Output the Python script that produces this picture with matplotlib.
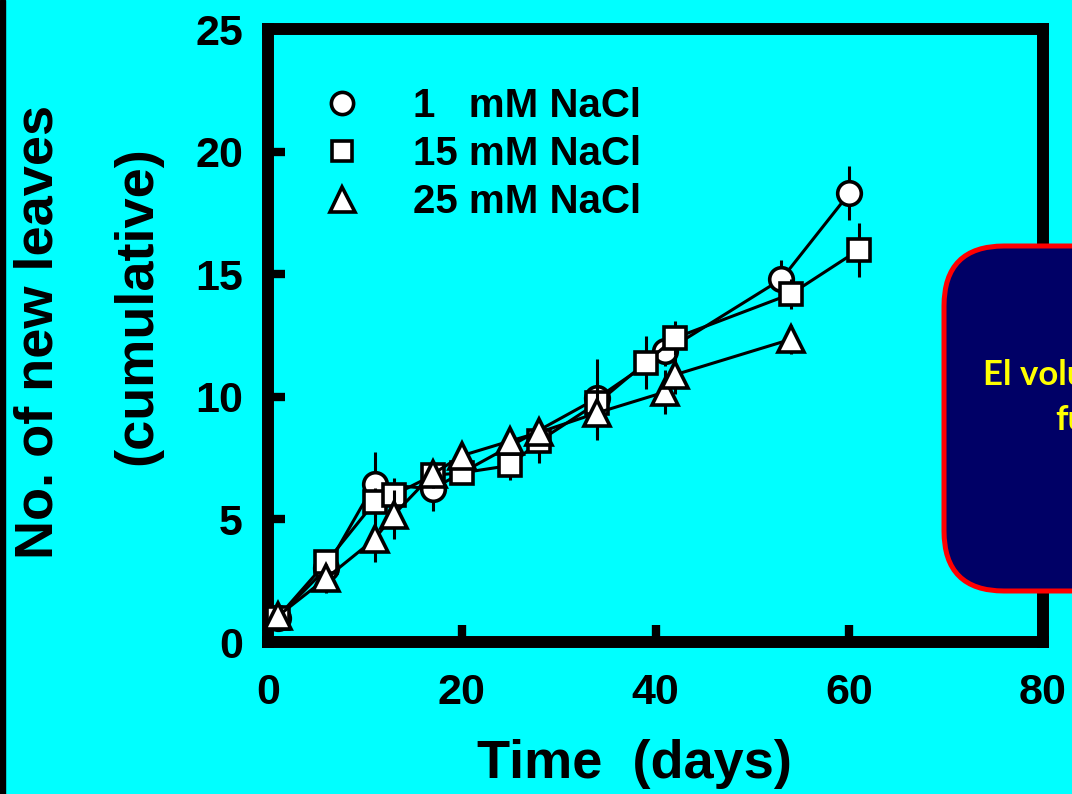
import numpy as np
import matplotlib.pyplot as plt
from matplotlib.lines import Line2D
from matplotlib.patches import FancyBboxPatch, Rectangle

# 1 mM NaCl
days_1 = [1, 6, 11, 17, 34, 41, 53, 60]
leaves_1 = [1.0, 3.0, 6.45, 6.25, 9.95, 11.85, 14.8, 18.3]
err_1 = [0.2, 0.3, 1.3, 0.9, 1.6, 0.6, 0.8, 1.1]

# 15 mM NaCl
days_15 = [1, 6, 11, 13, 17, 20, 25, 28, 34, 39, 42, 54, 61]
leaves_15 = [1.0, 3.25, 5.7, 6.0, 6.8, 6.9, 7.2, 8.2, 9.75, 11.4, 12.4, 14.2, 16.0]
err_15 = [0.1, 0.3, 0.6, 0.7, 0.5, 0.4, 0.6, 0.9, 0.9, 1.1, 0.7, 0.6, 1.1]

# 25 mM NaCl
days_25 = [1, 6, 11, 13, 17, 20, 25, 28, 34, 41, 42, 54]
leaves_25 = [1.05, 2.6, 4.2, 5.2, 6.85, 7.6, 8.2, 8.55, 9.35, 10.2, 10.9, 12.35]
err_25 = [0.2, 0.6, 0.95, 1.0, 0.4, 0.3, 0.3, 0.3, 1.1, 0.9, 0.8, 0.6]

labels = ['1   mM NaCl', '15 mM NaCl', '25 mM NaCl']
markers = ['o', 's', '^']
sizes = [17, 16, 19]

plt.rcParams['font.family'] = 'Liberation Sans'
plt.rcParams['font.weight'] = 'bold'

bg = '#00FFFF'
fig = plt.figure(figsize=(10.72, 7.94), dpi=100, facecolor=bg)
ax = fig.add_axes([0.25, 0.1914, 0.723, 0.772], facecolor=bg)

series = [(days_1, leaves_1, err_1), (days_15, leaves_15, err_15), (days_25, leaves_25, err_25)]
for i, (d, v, e) in enumerate(series):
    ax.errorbar(d, v, yerr=e, fmt='-' + markers[i], color='black', lw=2.2,
                elinewidth=2.2, capsize=0, ms=sizes[i], mfc='white', mec='black',
                mew=2.6, zorder=2 + i, clip_on=False)

ax.set_xlim(0, 80)
ax.set_ylim(0, 25)
ax.set_xticks([0, 20, 40, 60, 80])
ax.set_xticks([10, 30, 50, 70], minor=True)
ax.set_yticks([0, 5, 10, 15, 20, 25])
ax.tick_params(axis='both', which='major', direction='in', length=12, width=6,
               labelsize=31)
ax.tick_params(axis='x', which='major', pad=22)
ax.tick_params(axis='y', which='major', pad=18)
ax.tick_params(axis='x', which='minor', direction='in', length=3, width=2.5)
for s in ax.spines.values():
    s.set_linewidth(8.6)

ax.set_xlabel('Time  (days)', fontsize=39, fontweight='bold')
ax.xaxis.set_label_coords(0.4735, -0.158)

fig.text(39 / 1072, 0.582, 'No. of new leaves', rotation=90, fontsize=39,
         fontweight='bold', ha='center', va='center')
fig.text(137 / 1072, 0.6146, '(cumulative)', rotation=90, fontsize=39,
         fontweight='bold', ha='center', va='center')

handles = [Line2D([], [], ls='none', marker=m, ms=s - 1,
                  mfc='white', mec='black', mew=2.6) for m, s in zip(markers, sizes)]
ax.legend(handles, labels, loc='upper left', bbox_to_anchor=(0.0697, 0.905),
          frameon=False, prop={'size': 29, 'weight': 'bold'}, handlelength=1.0,
          handletextpad=1.27, labelspacing=0.25, borderpad=0, borderaxespad=0)

# black strip on the left edge
fig.add_artist(Rectangle((0, 0), 5 / 1072, 1, transform=fig.transFigure,
                         color='black', zorder=10))

# navy rounded box on the right
box = FancyBboxPatch((9.44, 2.03), 2.3, 3.45, boxstyle='round,pad=0,rounding_size=0.6',
                     transform=fig.dpi_scale_trans, facecolor='#000066',
                     edgecolor='#FF0000', lw=3.6, zorder=10)
fig.add_artist(box)
fig.text(983 / 1072, (794 - 385) / 794, 'El volu', color='#FFFF00', fontsize=25,
         fontweight='bold', family='Lato', ha='left', va='baseline', zorder=11)
fig.text(1055 / 1072, (794 - 430) / 794, 'fu', color='#FFFF00', fontsize=25,
         fontweight='bold', family='Lato', ha='left', va='baseline', zorder=11)

fig.savefig('out.png', dpi=100, facecolor=bg)
